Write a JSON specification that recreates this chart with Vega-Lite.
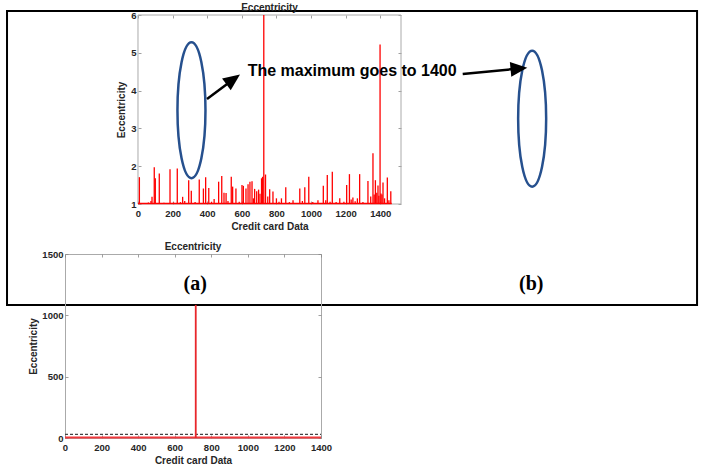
{
  "$schema": "https://vega.github.io/schema/vega-lite/v6.json",
  "background": "white",
  "padding": {"left": 6, "top": 2, "right": 2, "bottom": 0},
  "config": {
    "font": "Liberation Sans",
    "view": {"stroke": "#aaaaaa", "strokeWidth": 1},
    "title": {"font": "Liberation Sans", "fontSize": 10, "fontWeight": "bold", "color": "#262626", "offset": -3},
    "axis": {
      "domain": false, "grid": false, "ticks": true, "tickSize": -3, "tickColor": "#888888", "tickWidth": 0.8,
      "labelFont": "Liberation Sans", "labelFontSize": 9.5, "labelFontWeight": "bold", "labelColor": "#262626",
      "titleFont": "Liberation Sans", "titleFontSize": 10, "titleFontWeight": "bold", "titleColor": "#262626",
      "labelFlush": false, "labelOverlap": false, "labelPadding": 5, "titlePadding": 3, "format": "d"
    },
    "axisX": {"labelPadding": 7, "titlePadding": 4}
  },
  "spacing": 50,
  "bounds": "flush",
  "vconcat": [
    {
      "width": 336, "height": 189,
      "view": {"stroke": null},
      "title": {"text": "Eccentricity", "dx": 36.5},
      "resolve": {"axis": {"x": "independent", "y": "independent"}},
      "layer": [
        {
          "data": {"values": [{"x": 0, "x2": 1520, "y": 1, "y2": 6}]},
          "mark": {"type": "rect", "fill": "transparent", "stroke": "#aaaaaa", "strokeWidth": 1},
          "encoding": {
            "x": {"field": "x", "type": "quantitative", "scale": {"domain": [-421.9, 1520], "nice": false, "zero": false},
                  "axis": {"orient": "top", "labels": false, "title": null, "values": [0, 200, 400, 600, 800, 1000, 1200, 1400]}},
            "x2": {"field": "x2"},
            "y": {"field": "y", "type": "quantitative", "scale": {"domain": [1, 6], "nice": false, "zero": false},
                  "axis": {"orient": "right", "labels": false, "title": null, "values": [1, 2, 3, 4, 5, 6]}},
            "y2": {"field": "y2"}
          }
        },
        {
          "data": {"values": [
            {"x": 8, "e": 1.71}, {"x": 60, "e": 1.04}, {"x": 75, "e": 1.08}, {"x": 81, "e": 1.19}, {"x": 94, "e": 1.97},
            {"x": 100, "e": 1.68}, {"x": 123, "e": 1.81}, {"x": 150, "e": 1.03}, {"x": 185, "e": 1.92}, {"x": 205, "e": 1.04},
            {"x": 227, "e": 1.94}, {"x": 245, "e": 1.05}, {"x": 258, "e": 1.19}, {"x": 270, "e": 1.08}, {"x": 293, "e": 1.63},
            {"x": 308, "e": 1.35}, {"x": 330, "e": 1.05}, {"x": 354, "e": 1.65}, {"x": 378, "e": 1.41}, {"x": 391, "e": 1.71},
            {"x": 409, "e": 1.42}, {"x": 425, "e": 1.06}, {"x": 440, "e": 1.13}, {"x": 466, "e": 1.59}, {"x": 484, "e": 1.74},
            {"x": 497, "e": 1.3}, {"x": 509, "e": 1.29}, {"x": 520, "e": 1.08}, {"x": 539, "e": 1.72}, {"x": 547, "e": 1.46},
            {"x": 566, "e": 1.41}, {"x": 585, "e": 1.06}, {"x": 601, "e": 1.5}, {"x": 609, "e": 1.48}, {"x": 624, "e": 1.41},
            {"x": 636, "e": 1.52}, {"x": 647, "e": 1.59}, {"x": 659, "e": 1.6}, {"x": 667, "e": 1.15}, {"x": 674, "e": 1.4},
            {"x": 686, "e": 1.34}, {"x": 697, "e": 1.38}, {"x": 705, "e": 1.27}, {"x": 714, "e": 1.68}, {"x": 720, "e": 1.72},
            {"x": 727, "e": 1400}, {"x": 737, "e": 1.78}, {"x": 750, "e": 1.2}, {"x": 761, "e": 1.39}, {"x": 780, "e": 1.33},
            {"x": 800, "e": 1.15}, {"x": 815, "e": 1.06}, {"x": 829, "e": 1.15}, {"x": 854, "e": 1.44}, {"x": 875, "e": 1.05},
            {"x": 896, "e": 1.1}, {"x": 935, "e": 1.41}, {"x": 950, "e": 1.08}, {"x": 964, "e": 1.44}, {"x": 987, "e": 1.72},
            {"x": 1010, "e": 1.05}, {"x": 1040, "e": 1.1}, {"x": 1071, "e": 1.48}, {"x": 1085, "e": 1.1}, {"x": 1094, "e": 1.77},
            {"x": 1110, "e": 1.06}, {"x": 1123, "e": 1.85}, {"x": 1145, "e": 1.05}, {"x": 1166, "e": 1.15}, {"x": 1190, "e": 1.06},
            {"x": 1206, "e": 1.5}, {"x": 1222, "e": 1.79}, {"x": 1232, "e": 1.12}, {"x": 1242, "e": 1.17}, {"x": 1255, "e": 1.07},
            {"x": 1268, "e": 1.15}, {"x": 1281, "e": 1.79}, {"x": 1300, "e": 1.05}, {"x": 1329, "e": 1.61}, {"x": 1345, "e": 1.2},
            {"x": 1358, "e": 2.34}, {"x": 1365, "e": 1.25}, {"x": 1372, "e": 1.63}, {"x": 1380, "e": 1.3}, {"x": 1387, "e": 1.49},
            {"x": 1392, "e": 1.22}, {"x": 1399, "e": 5.22}, {"x": 1404, "e": 1.28}, {"x": 1410, "e": 1.25}, {"x": 1416, "e": 1.57},
            {"x": 1425, "e": 1.15}, {"x": 1441, "e": 1.7}, {"x": 1450, "e": 1.1}, {"x": 1461, "e": 1.34}
          ]},
          "mark": {"type": "rule", "color": "#ff0000", "strokeWidth": 1.3, "clip": true},
          "encoding": {
            "x": {"field": "x", "type": "quantitative", "scale": {"domain": [-421.9, 1520], "nice": false, "zero": false},
                  "axis": {"title": "Credit card Data", "titleX": 204.5, "values": [0, 200, 400, 600, 800, 1000, 1200, 1400]}},
            "y": {"field": "e", "type": "quantitative", "scale": {"domain": [1, 6], "nice": false, "zero": false},
                  "axis": {"title": "Eccentricity", "offset": -73, "titlePadding": 4, "values": [1, 2, 3, 4, 5, 6]}},
            "y2": {"datum": 1}
          }
        },
        {
          "data": {"values": [{"x": 0, "x2": 1466, "y": 1.015}]},
          "mark": {"type": "rule", "color": "#ff0000", "strokeWidth": 1.6},
          "encoding": {
            "x": {"field": "x", "type": "quantitative", "scale": {"domain": [-421.9, 1520], "nice": false, "zero": false}, "axis": null},
            "x2": {"field": "x2"},
            "y": {"field": "y", "type": "quantitative", "scale": {"domain": [1, 6], "nice": false, "zero": false}, "axis": null}
          }
        },
        {
          "data": {"values": [{"x": -757, "x2": 3231, "y": 6.106, "y2": -1.672}]},
          "mark": {"type": "rect", "fill": "transparent", "stroke": "#000000", "strokeWidth": 2, "clip": false},
          "encoding": {
            "x": {"field": "x", "type": "quantitative", "scale": {"domain": [-421.9, 1520], "nice": false, "zero": false}, "axis": null},
            "x2": {"field": "x2"},
            "y": {"field": "y", "type": "quantitative", "scale": {"domain": [1, 6], "nice": false, "zero": false}, "axis": null},
            "y2": {"field": "y2"}
          }
        },
        {
          "data": {"values": [{"x": 309, "y": 3.48}, {"x": 2278, "y": 3.257}]},
          "mark": {"type": "point", "shape": "M0,-1C0.1138,-1,0.206,-0.5523,0.206,0C0.206,0.5523,0.1138,1,0,1C-0.1138,1,-0.206,0.5523,-0.206,0C-0.206,-0.5523,-0.1138,-1,0,-1Z",
                   "size": 18496, "filled": false, "stroke": "#26508e", "strokeWidth": 2.5, "opacity": 1, "clip": false},
          "encoding": {
            "x": {"field": "x", "type": "quantitative", "scale": {"domain": [-421.9, 1520], "nice": false, "zero": false}, "axis": null},
            "y": {"field": "y", "type": "quantitative", "scale": {"domain": [1, 6], "nice": false, "zero": false}, "axis": null}
          }
        },
        {
          "data": {"values": [{"x": 398.8, "y": 3.778, "x2": 540.4, "y2": 4.262}, {"x": 1876.6, "y": 4.439, "x2": 2189.5, "y2": 4.579}]},
          "mark": {"type": "rule", "color": "#000000", "strokeWidth": 2.5, "clip": false},
          "encoding": {
            "x": {"field": "x", "type": "quantitative", "scale": {"domain": [-421.9, 1520], "nice": false, "zero": false}, "axis": null},
            "x2": {"field": "x2"},
            "y": {"field": "y", "type": "quantitative", "scale": {"domain": [1, 6], "nice": false, "zero": false}, "axis": null},
            "y2": {"field": "y2"}
          }
        },
        {
          "data": {"values": [{"x": 540.4, "y": 4.262}]},
          "mark": {"type": "point", "shape": "M0,-1L0.7,0.6L-0.7,0.6Z", "size": 441, "angle": 54, "filled": true, "color": "#000000", "opacity": 1, "clip": false},
          "encoding": {
            "x": {"field": "x", "type": "quantitative", "scale": {"domain": [-421.9, 1520], "nice": false, "zero": false}, "axis": null},
            "y": {"field": "y", "type": "quantitative", "scale": {"domain": [1, 6], "nice": false, "zero": false}, "axis": null}
          }
        },
        {
          "data": {"values": [{"x": 2189.5, "y": 4.579}]},
          "mark": {"type": "point", "shape": "M0,-1L0.7,0.6L-0.7,0.6Z", "size": 441, "angle": 84.4, "filled": true, "color": "#000000", "opacity": 1, "clip": false},
          "encoding": {
            "x": {"field": "x", "type": "quantitative", "scale": {"domain": [-421.9, 1520], "nice": false, "zero": false}, "axis": null},
            "y": {"field": "y", "type": "quantitative", "scale": {"domain": [1, 6], "nice": false, "zero": false}, "axis": null}
          }
        },
        {
          "data": {"values": [{"x": 634, "y": 4.386, "label": "The maximum goes to 1400"}]},
          "mark": {"type": "text", "font": "Liberation Sans", "fontSize": 16, "fontWeight": "bold", "color": "#000000", "align": "left", "baseline": "alphabetic", "clip": false},
          "encoding": {
            "x": {"field": "x", "type": "quantitative", "scale": {"domain": [-421.9, 1520], "nice": false, "zero": false}, "axis": null},
            "y": {"field": "y", "type": "quantitative", "scale": {"domain": [1, 6], "nice": false, "zero": false}, "axis": null},
            "text": {"field": "label"}
          }
        },
        {
          "data": {"values": [{"x": 331, "y": -1.288, "label": "(a)"}, {"x": 2273, "y": -1.288, "label": "(b)"}]},
          "mark": {"type": "text", "font": "Liberation Serif", "fontSize": 20, "fontWeight": "bold", "color": "#000000", "align": "center", "baseline": "alphabetic", "clip": false},
          "encoding": {
            "x": {"field": "x", "type": "quantitative", "scale": {"domain": [-421.9, 1520], "nice": false, "zero": false}, "axis": null},
            "y": {"field": "y", "type": "quantitative", "scale": {"domain": [1, 6], "nice": false, "zero": false}, "axis": null},
            "text": {"field": "label"}
          }
        }
      ]
    },
    {
      "width": 256, "height": 184,
      "title": {"text": "Eccentricity"},
      "resolve": {"axis": {"x": "independent", "y": "independent"}},
      "layer": [
        {
          "data": {"values": [{"x": 0, "x2": 1400, "y": 4}]},
          "mark": {"type": "rule", "color": "#f0393c", "strokeWidth": 2.2},
          "encoding": {
            "x": {"field": "x", "type": "quantitative", "scale": {"domain": [0, 1400], "nice": false, "zero": false},
                  "axis": {"title": "Credit card Data", "values": [0, 200, 400, 600, 800, 1000, 1200, 1400]}},
            "x2": {"field": "x2"},
            "y": {"field": "y", "type": "quantitative", "scale": {"domain": [0, 1500], "nice": false, "zero": false},
                  "axis": {"title": "Eccentricity", "values": [0, 500, 1000, 1500]}}
          }
        },
        {
          "data": {"values": [{"x": 0, "x2": 1400, "y": 30}]},
          "mark": {"type": "rule", "color": "#444444", "strokeWidth": 1.2, "strokeDash": [3, 2]},
          "encoding": {
            "x": {"field": "x", "type": "quantitative", "scale": {"domain": [0, 1400], "nice": false, "zero": false},
                  "axis": {"orient": "top", "labels": false, "title": null, "values": [0, 200, 400, 600, 800, 1000, 1200, 1400]}},
            "x2": {"field": "x2"},
            "y": {"field": "y", "type": "quantitative", "scale": {"domain": [0, 1500], "nice": false, "zero": false},
                  "axis": {"orient": "right", "labels": false, "title": null, "values": [0, 500, 1000, 1500]}}
          }
        },
        {
          "data": {"values": [{"x": 715, "y": 1085}]},
          "mark": {"type": "rule", "color": "#e8262b", "strokeWidth": 1.8},
          "encoding": {
            "x": {"field": "x", "type": "quantitative", "scale": {"domain": [0, 1400], "nice": false, "zero": false}, "axis": null},
            "y": {"field": "y", "type": "quantitative", "scale": {"domain": [0, 1500], "nice": false, "zero": false}, "axis": null},
            "y2": {"datum": 0}
          }
        }
      ]
    }
  ]
}
